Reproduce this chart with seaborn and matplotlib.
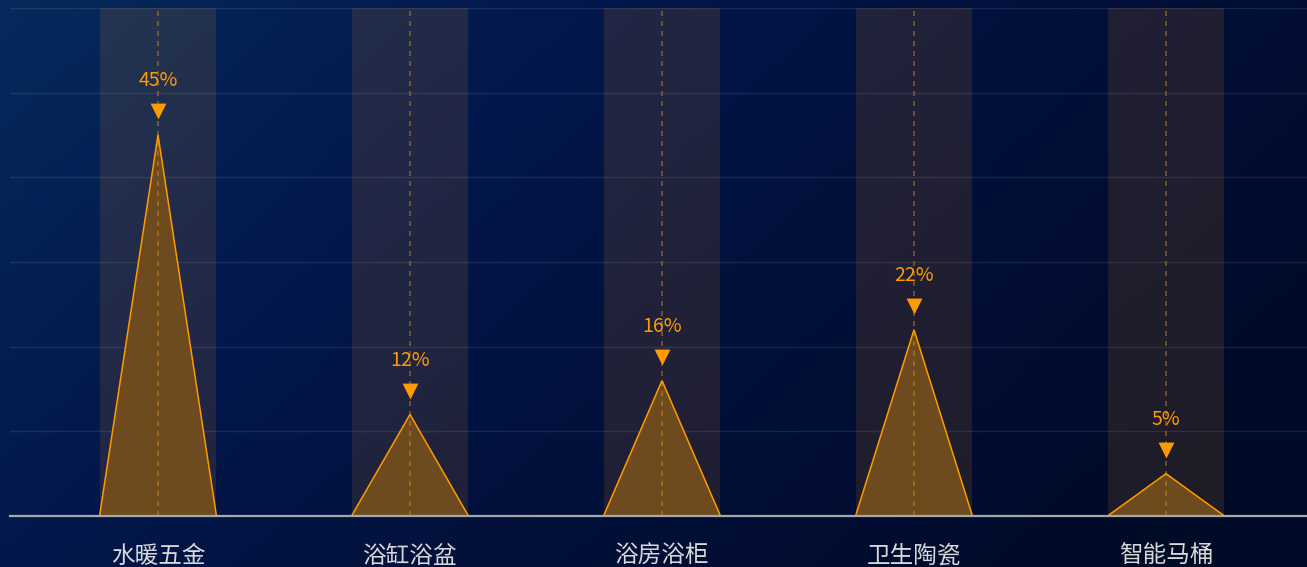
import numpy as np
import pandas as pd
import matplotlib
matplotlib.use("Agg")
import matplotlib.pyplot as plt
import seaborn as sns
from matplotlib.colors import LinearSegmentedColormap

categories = ["水暖五金", "浴缸浴盆", "浴房浴柜", "卫生陶瓷", "智能马桶"]
values = [45, 12, 16, 22, 5]
labels = ["45%", "12%", "16%", "22%", "5%"]
y_max = 60

sns.set_theme(style="white")
plt.rcParams['font.family'] = ['Noto Sans CJK SC', 'DejaVu Sans']

W, H = 1307, 567
fig = plt.figure(figsize=(W / 100, H / 100), dpi=100)

# background gradient
bg_ax = fig.add_axes([0, 0, 1, 1], zorder=0)
xx = np.linspace(0, 1, 300)
yy = np.linspace(0, 1, 150)
X, Y = np.meshgrid(xx, yy)
t = np.clip(0.75 * X + 0.35 * Y, 0, 1)
cmap = LinearSegmentedColormap.from_list("bg", ["#062a5c", "#03184c", "#020f38", "#000b28"])
bg_ax.imshow(t, cmap=cmap, aspect="auto", extent=[0, 1, 0, 1], origin="upper")
bg_ax.axis("off")

ax = fig.add_axes([10 / W, (H - 516) / H, 1 - 10 / W, (516 - 8) / H], zorder=1)
ax.set_facecolor("none")

df = pd.DataFrame({"cat": categories, "val": values, "full": [y_max] * len(values)})
bw = 0.464

# background bars
sns.barplot(data=df, x="cat", y="full", ax=ax, color=(1.0, 0.6, 0.1, 0.12),
            width=bw, saturation=1, linewidth=0, zorder=1)

# triangles
for i, v in enumerate(values):
    ax.fill([i - bw / 2, i, i + bw / 2], [0, v, 0], facecolor="#6d4b1f",
            edgecolor="#ff9a00", linewidth=1.1, zorder=3)
    ax.plot([i, i], [0, y_max], color="#ff9a00", alpha=0.45, linestyle=(0, (3, 3)),
            linewidth=1.2, zorder=4)

# markers above peaks
mdf = pd.DataFrame({"x": np.arange(len(values)), "y": np.array(values) + 2.8})
sns.scatterplot(data=mdf, x="x", y="y", ax=ax, marker="v", s=130, color="#ff9a00",
                linewidth=0, zorder=5)

for i, (v, lab) in enumerate(zip(values, labels)):
    ax.text(i, v + 6.4, lab, ha="center", va="center", color="#ff9a00", fontsize=14,
            zorder=6)

# grid lines
for g in range(10, y_max + 1, 10):
    ax.axhline(g, color="#ffffff", alpha=0.09, linewidth=1, zorder=0.5)

ax.set_xlim(-148 / 252, (1307 - 158) / 252)
ax.set_ylim(0, y_max)
ax.set_xlabel("")
ax.set_ylabel("")
ax.set_yticks([])
ax.set_xticks(range(len(categories)))
ax.set_xticklabels(categories, color="#d8d8d8", fontsize=17)
ax.tick_params(axis="x", length=0, pad=21)
for s in ["top", "right", "left"]:
    ax.spines[s].set_visible(False)
ax.spines["bottom"].set_color("#a8a8a8")
ax.spines["bottom"].set_linewidth(1.6)
ax.spines["bottom"].set_zorder(7)

fig.savefig("out.png", dpi=100)
